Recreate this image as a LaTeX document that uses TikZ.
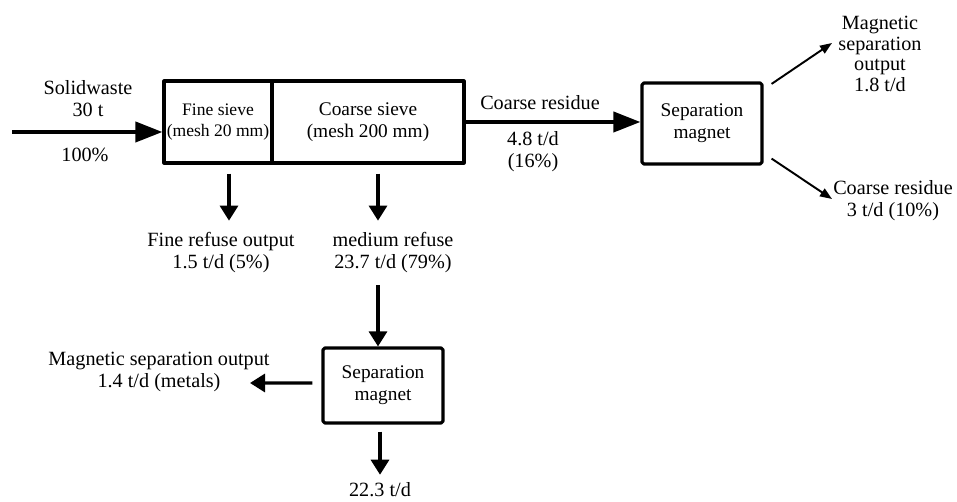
\documentclass[tikz,border=0pt]{standalone}
\usepackage{fontspec}
\setmainfont{Liberation Serif}
\usetikzlibrary{arrows.meta, positioning, calc}

\begin{document}
\begin{tikzpicture}[x=0.02cm, y=-0.02cm, >=Stealth,
    unit/.style={draw, line width=1.8pt, line join=round, align=center, inner sep=1pt, font=\fontsize{11}{12.5}\selectfont},
    magnet/.style={unit, rounded corners=1pt, minimum width=2.4cm},
    lbl/.style={align=center, inner sep=1pt, font=\fontsize{11.5}{12.5}\selectfont},
    bigflow/.style={-{Triangle[length=0.54cm, width=0.4cm]}, line width=2.2pt},
    flow/.style={-{Triangle[length=0.3cm, width=0.36cm]}, line width=1.8pt},
    thinflow/.style={-{Triangle[length=0.24cm, width=0.18cm]}, line width=1.1pt}]
  \useasboundingbox (0,0) rectangle (957,502);

  % sieves
  \node[unit, minimum width=2.16cm, minimum height=1.64cm, font=\fontsize{10}{12}\selectfont] (fine) at (218,122) {Fine sieve\\(mesh 20 mm)};
  \node[unit, minimum width=3.84cm, minimum height=1.64cm] (coarse) at (368,122) {Coarse sieve\\(mesh 200 mm)};
  % magnets
  \node[magnet, minimum height=1.62cm] (magR) at (702,123.5) {Separation\\magnet};
  \node[magnet, minimum height=1.5cm] (magB) at (383,385.5) {Separation\\magnet};

  % labels
  \node[lbl] (waste) at (88,99) {Solidwaste\\30 t};
  \node[lbl] (pct) at (85,155) {100\%};
  \node[lbl] (fineout) at (221,253) {Fine refuse output\\1.5 t/d (5\%)};
  \node[lbl] (medium) at (393,253) {medium refuse\\23.7 t/d (79\%)};
  \node[lbl] (cres) at (540,103) {Coarse residue};
  \node[lbl] (cresq) at (533,152) {4.8 t/d\\(16\%)};
  \node[lbl, font=\fontsize{11.5}{11.8}\selectfont] (magout) at (880,54) {Magnetic\\separation\\output\\1.8 t/d};
  \node[lbl] (cres2) at (893,201) {Coarse residue\\3 t/d (10\%)};
  \node[lbl] (metals) at (159,372) {Magnetic separation output\\1.4 t/d (metals)};
  \node[lbl] (rest) at (380,490) {22.3 t/d};

  \coordinate (in) at (12,132);
  \coordinate (metend) at (250,383);
  \coordinate (upend) at (832,43);
  \coordinate (dnend) at (832,199);

  % flows
  \draw[bigflow] (in) -- (in -| fine.west);
  \draw[bigflow] (coarse.east) -- (coarse.east -| magR.west);
  \draw[flow, shorten <=0.18cm, shorten >=0.2cm] ([xshift=0.22cm]fine.south) -- ([xshift=0.22cm]fine.south |- fineout.north);
  \draw[flow, shorten <=0.18cm, shorten >=0.2cm] ([xshift=0.2cm]coarse.south) -- ([xshift=0.2cm]coarse.south |- medium.north);
  \draw[flow, shorten <=0.2cm] ([xshift=-0.1cm]magB.north |- medium.south) -- ([xshift=-0.1cm]magB.north);
  \draw[flow, shorten <=0.14cm, shorten >=0.12cm] ([xshift=-0.06cm]magB.south) -- ([xshift=-0.06cm]magB.south |- rest.north);
  \draw[flow, shorten <=0.18cm] ([yshift=0.05cm]magB.west) -- (metend);
  \draw[thinflow] ([xshift=0.16cm, yshift=-0.05cm]magR.north east) -- (upend);
  \draw[thinflow] ([xshift=0.16cm, yshift=0.14cm]magR.south east) -- (dnend);
\end{tikzpicture}
\end{document}
